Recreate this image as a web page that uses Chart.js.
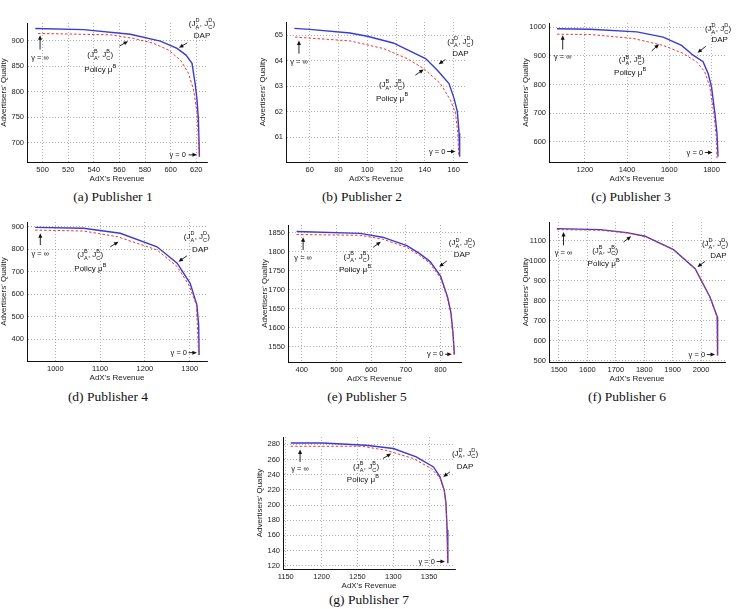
<!DOCTYPE html>
<html>
<head>
<meta charset="utf-8">
<script src="https://cdn.jsdelivr.net/npm/chart.js@4.4.1/dist/chart.umd.min.js"></script>
<style>
body{margin:0;background:#fff;width:741px;height:609px;overflow:hidden;position:relative;}
canvas{position:absolute;}
.cap{position:absolute;font-family:"Liberation Serif","DejaVu Serif",serif;font-size:13.5px;color:#111;transform:translate(-50%,-50%);white-space:nowrap;}
</style>
</head>
<body>
<script>

/* DATA : [AdX's revenue, advertisers' quality] */

const p1Dap = [[494.3,924.3],[532,922],[568.5,913],[592,899.4],[605,885],[612,872],[616.7,855.7],[619.3,813],[620.6,784],[621.7,744.5],[622.5,672.5]];
const p1Policy = [[496.4,914.5],[552.9,911.8],[571,904.7],[586.7,895],[598.4,881.8],[607.7,862],[614,836],[618,803],[620.6,758.7],[622.4,672]];
const p1XTicks = [500,520,540,560,580,600,620];
const p1YTicks = [700,750,800,850,900];

const p2Dap = [[49.3,65.26],[60,65.22],[88,65.08],[100,64.95],[118,64.69],[140.5,64.08],[148.7,63.62],[156.8,63.1],[160.3,62.52],[162.6,62],[163.8,61.16],[164.2,60.24]];
const p2Policy = [[49.8,64.92],[88,64.77],[111.3,64.47],[127.6,64.08],[139.2,63.69],[150.8,63.1],[157.8,62.45],[161.3,61.94],[162.9,61.16],[163.6,60.24]];
const p2XTicks = [60,80,100,120,140,160];
const p2YTicks = [61,62,63,64,65];

const p3Dap = [[1068,994],[1225,992],[1446,983],[1571,965],[1658,936],[1713,902],[1760,879],[1784,838],[1800,792],[1816,700],[1826,630],[1831,549]];
const p3Policy = [[1068,975],[1225,974],[1430,960],[1571,936],[1666,908],[1729,879],[1768,844],[1792,792],[1811,700],[1824,607],[1826,543]];
const p3XTicks = [1200,1400,1600,1800];
const p3YTicks = [600,700,800,900,1000];

const p4Dap = [[955,897],[1063,893],[1145,871],[1227,811],[1272,738],[1301,649],[1316,553],[1320,464],[1321,330]];
const p4Policy = [[955,885],[1063,881],[1138,856],[1227,797],[1272,723],[1298,641],[1315,553],[1320,330]];
const p4XTicks = [1000,1100,1200,1300];
const p4YTicks = [400,500,600,700,800,900];

const p5Dap = [[385,1853],[568,1848],[633,1838],[703,1816],[740,1795],[770,1774],[800,1736],[820,1682],[830,1640],[836,1585],[840,1530]];
const p5Policy = [[385,1845],[568,1843],[633,1833],[703,1811],[740,1790],[770,1769],[800,1731],[820,1678],[830,1636],[836,1582],[839,1530]];
const p5XTicks = [400,500,600,700,800];
const p5YTicks = [1550,1600,1650,1700,1750,1800,1850];

const p6Dap = [[1493,1160],[1645,1155],[1739,1140],[1803,1122],[1903,1055],[1979,960],[2031,818],[2057,718],[2058,526]];
const p6Policy = [[1493,1155],[1645,1152],[1739,1138],[1803,1120],[1903,1054],[1979,959],[2031,817],[2056,718],[2057,526]];
const p6XTicks = [1500,1600,1700,1800,1900,2000];
const p6YTicks = [500,600,700,800,900,1000,1100];

const p7Dap = [[1157,281.7],[1201,281.7],[1262,278.7],[1300,274.4],[1332,263.4],[1356,250.2],[1365,237],[1371,219.7],[1373.4,202.2],[1375,167],[1376,123.5]];
const p7Policy = [[1157,277.4],[1257,277.4],[1290,272],[1328,261.2],[1353,248],[1365,235.7],[1371,219],[1373.4,202],[1375,167],[1376,123]];
const p7XTicks = [1150,1200,1250,1300,1350];
const p7YTicks = [120,140,160,180,200,220,240,260,280];

const captions = ["(a) Publisher 1","(b) Publisher 2","(c) Publisher 3","(d) Publisher 4","(e) Publisher 5","(f) Publisher 6","(g) Publisher 7"];


/* LAYOUT (plot box in page px, axis ranges, caption centre, notes in data units) */

const panels = [
  {dap:p1Dap, pol:p1Policy, xt:p1XTicks, yt:p1YTicks, box:[27,23,207,162], xr:[487.8,628.4], yr:[662,935], cap:[113,197],
   inf:[498,867,883,911], zero:[676,612,614,620.6],
   dapL:[624.5,932.7], dapN:[624.5,909], dapA:[613,896,606.5,886.5],
   polL:[545,872], polN:[545,842.5], polA:[560,889.6,566.7,899.4]},
  {dap:p2Dap, pol:p2Policy, xt:p2XTicks, yt:p2YTicks, box:[286,22,467,162], xr:[43.5,169.3], yr:[60.03,65.51], cap:[362,197],
   inf:[52.5,63.95,64.27,64.79], zero:[60.44,154.3,155.5,161.3],
   dapL:[164.7,64.73], dapN:[164.7,64.27], dapA:[154.3,64.04,149.6,63.86],
   polL:[117.1,63.04], polN:[117.1,62.52], polA:[133.4,63.43,139.2,63.65]},
  {dap:p3Dap, pol:p3Policy, xt:p3XTicks, yt:p3YTicks, box:[549,23,725,162], xr:[1030,1864], yr:[530,1014], cap:[631,197],
   inf:[1095,896,921.6,971], zero:[563,1760,1768.5,1804.7],
   dapL:[1831,994], dapN:[1839,956], dapA:[1773,933,1734,910],
   polL:[1422,884.5], polN:[1414,840.5], polA:[1516.6,916.8,1551,940]},
  {dap:p4Dap, pol:p4Policy, xt:p4XTicks, yt:p4YTicks, box:[27,222,207,361], xr:[936.8,1338.6], yr:[303.7,921], cap:[108,397],
   inf:[966.5,777.5,818.8,870.7], zero:[340.8,1294,1297.5,1316],
   dapL:[1316,855.6], dapN:[1323.7,799.7], dapA:[1294,771,1275,744.7],
   polL:[1078,774], polN:[1078,712], polA:[1122.8,811,1141,833.4]},
  {dap:p5Dap, pol:p5Policy, xt:p5XTicks, yt:p5YTicks, box:[288,225,461,362], xr:[360.4,859], yr:[1510.5,1870], cap:[367,397],
   inf:[404,1782.6,1804.5,1838], zero:[1530.8,808.4,813,832.6],
   dapL:[861.6,1822], dapN:[861.6,1791], dapA:[818,1775.5,796,1760.5],
   polL:[558,1787], polN:[553,1752], polA:[606,1811.6,628,1826]},
  {dap:p6Dap, pol:p6Policy, xt:p6XTicks, yt:p6YTicks, box:[549,222,725,362], xr:[1464.9,2084], yr:[493,1193], cap:[627,397],
   inf:[1516,1038,1076.5,1143], zero:[530,2013.9,2020,2049],
   dapL:[2049,1085], dapN:[2061,1026.5], dapA:[2014,996.5,1987,968],
   polL:[1662.6,1051.5], polN:[1656.7,985], polA:[1727,1093,1754,1121.5]},
  {dap:p7Dap, pol:p7Policy, xt:p7XTicks, yt:p7YTicks, box:[283,437,455,569], xr:[1146.2,1386], yr:[115.7,289.6], cap:[369,600],
   inf:[1170,248,256.8,273], zero:[125.6,1358,1360.4,1372],
   dapL:[1400,267.8], dapN:[1400,251], dapA:[1379,243.7,1369.6,237],
   polL:[1262,250.2], polN:[1257.4,232.8], polA:[1285.5,261.2,1297,267.8]}
];

const FONT = '"Liberation Sans", Arial, sans-serif';
Chart.defaults.font.family = FONT;

const padL = 30, padT = 10, padR = 44, padB = 22;


/* DRAW HELPERS */

function arrow(ctx, x1, y1, x2, y2) {
  const a = Math.atan2(y2 - y1, x2 - x1), h = 4.5, w = 2;
  const c = Math.cos(a), s = Math.sin(a);
  ctx.beginPath();
  ctx.moveTo(x1, y1);
  ctx.lineTo(x2 - c * h * 0.8, y2 - s * h * 0.8);
  ctx.stroke();
  ctx.beginPath();
  ctx.moveTo(x2, y2);
  ctx.lineTo(x2 - h * c + w * s, y2 - h * s - w * c);
  ctx.lineTo(x2 - h * c - w * s, y2 - h * s + w * c);
  ctx.closePath();
  ctx.fill();
}

function jLabel(ctx, cx, cy, sup) {
  const big = "8px " + FONT, small = "5.5px " + FONT;
  const parts = [["(J", null], [sup, "A"], [", J", null], [sup, "C"], [")", null]];
  const ws = parts.map(pt => {
    if (pt[1] === null) { ctx.font = big; return ctx.measureText(pt[0]).width; }
    ctx.font = small;
    return Math.max(ctx.measureText(pt[0]).width, ctx.measureText(pt[1]).width) + 0.3;
  });
  let x = cx - ws.reduce((a, b) => a + b, 0) / 2;
  ctx.textAlign = "left";
  ctx.textBaseline = "middle";
  parts.forEach((pt, i) => {
    if (pt[1] === null) {
      ctx.font = big;
      ctx.fillText(pt[0], x, cy);
    } else {
      ctx.font = small;
      ctx.fillText(pt[0], x, cy - 3.2);
      ctx.fillText(pt[1], x, cy + 3.4);
    }
    x += ws[i];
  });
}

function supLabel(ctx, cx, cy, base, sup) {
  const big = "8px " + FONT, small = "5.5px " + FONT;
  ctx.font = big;
  const w1 = ctx.measureText(base).width;
  ctx.font = small;
  const w2 = ctx.measureText(sup).width;
  let x = cx - (w1 + w2) / 2;
  ctx.textAlign = "left";
  ctx.textBaseline = "middle";
  ctx.font = big;
  ctx.fillText(base, x, cy);
  ctx.font = small;
  ctx.fillText(sup, x + w1 + 0.3, cy - 3.5);
}


/* NOTES PLUGIN */

function notesPlugin(p) {
  return {
    id: "notes",
    afterDraw(chart) {
      const ctx = chart.ctx;
      const X = v => chart.scales.x.getPixelForValue(v);
      const Y = v => chart.scales.y.getPixelForValue(v);

      ctx.save();
      ctx.fillStyle = "#111";
      ctx.strokeStyle = "#111";
      ctx.lineWidth = 0.9;

      // gamma = infinity
      ctx.font = "7.5px " + FONT;
      ctx.textAlign = "center";
      ctx.textBaseline = "middle";
      ctx.fillText("γ = ∞", X(p.inf[0]), Y(p.inf[1]));
      arrow(ctx, X(p.inf[0]), Y(p.inf[2]), X(p.inf[0]), Y(p.inf[3]));

      // gamma = 0
      ctx.font = "7.5px " + FONT;
      ctx.textAlign = "right";
      ctx.fillText("γ = 0", X(p.zero[1]), Y(p.zero[0]));
      arrow(ctx, X(p.zero[2]), Y(p.zero[0]), X(p.zero[3]), Y(p.zero[0]));

      // DAP
      jLabel(ctx, X(p.dapL[0]), Y(p.dapL[1]), "D");
      ctx.font = "8px " + FONT;
      ctx.textAlign = "center";
      ctx.fillText("DAP", X(p.dapN[0]), Y(p.dapN[1]));
      arrow(ctx, X(p.dapA[0]), Y(p.dapA[1]), X(p.dapA[2]), Y(p.dapA[3]));

      // policy mu B
      jLabel(ctx, X(p.polL[0]), Y(p.polL[1]), "B");
      supLabel(ctx, X(p.polN[0]), Y(p.polN[1]), "Policy μ", "B");
      arrow(ctx, X(p.polA[0]), Y(p.polA[1]), X(p.polA[2]), Y(p.polA[3]));

      ctx.restore();
    }
  };
}


/* BUILD CHARTS */

panels.forEach((p, i) => {

  const [l, t, r, b] = p.box;

  const cv = document.createElement("canvas");
  cv.width = (r - l) + padL + padR;
  cv.height = (b - t) + padT + padB;
  cv.style.left = (l - padL) + "px";
  cv.style.top = (t - padT) + "px";
  document.body.appendChild(cv);

  const gridOpts = { color: "#9c9c9c", lineWidth: 0.8, drawTicks: false };
  const borderOpts = { display: true, color: "#111", width: 1, dash: [1, 2] };
  const tickOpts = {
    autoSkip: false, maxRotation: 0, color: "#222", font: { size: 7.5 }, padding: 3,
    callback: v => String(v)
  };

  new Chart(cv, {
    type: "scatter",
    data: {
      datasets: [
        {
          label: "Policy μB",
          data: p.pol.map(([x, y]) => ({ x, y })),
          showLine: true,
          borderColor: "#f0352e",
          borderWidth: 1,
          borderDash: [2.5, 2],
          pointRadius: 0
        },
        {
          label: "DAP",
          data: p.dap.map(([x, y]) => ({ x, y })),
          showLine: true,
          borderColor: "#3a3ad4",
          borderWidth: 1.4,
          pointRadius: 0
        }
      ]
    },
    options: {
      responsive: false,
      animation: false,
      events: [],
      layout: { padding: { top: padT, right: padR, left: 2, bottom: 0 } },
      plugins: { legend: { display: false }, tooltip: { enabled: false } },
      scales: {
        x: {
          type: "linear",
          min: p.xr[0],
          max: p.xr[1],
          afterBuildTicks: s => { s.ticks = p.xt.map(v => ({ value: v })); },
          afterFit: s => { s.height = padB; },
          ticks: tickOpts,
          grid: gridOpts,
          border: borderOpts,
          title: { display: true, text: "AdX's Revenue", color: "#222", font: { size: 8 }, padding: 0 }
        },
        y: {
          type: "linear",
          min: p.yr[0],
          max: p.yr[1],
          afterBuildTicks: s => { s.ticks = p.yt.map(v => ({ value: v })); },
          afterFit: s => { s.width = padL - 2; },
          ticks: tickOpts,
          grid: gridOpts,
          border: borderOpts,
          title: { display: true, text: "Advertisers' Quality", color: "#222", font: { size: 8 }, padding: 0 }
        }
      }
    },
    plugins: [notesPlugin(p)]
  });

  const cap = document.createElement("div");
  cap.className = "cap";
  cap.textContent = captions[i];
  cap.style.left = p.cap[0] + "px";
  cap.style.top = p.cap[1] + "px";
  document.body.appendChild(cap);

});

</script>
</body>
</html>
